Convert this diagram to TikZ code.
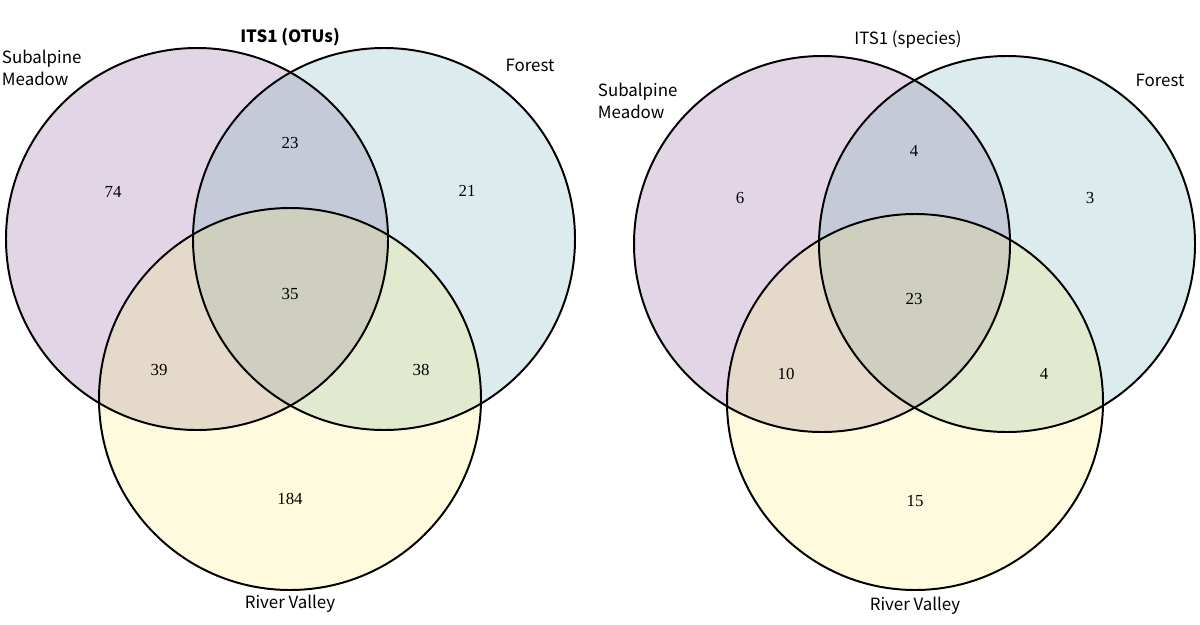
\documentclass[tikz,border=0pt]{standalone}
\usepackage{fontspec}
\setmainfont{Liberation Serif}
\newfontfamily\labelfont{Noto Sans CJK JP}
\usepackage{tikz}

\definecolor{meadow}{RGB}{110,50,130}
\definecolor{forest}{RGB}{80,155,165}
\definecolor{valley}{RGB}{245,230,90}

\begin{document}
\begin{tikzpicture}[x=0.025cm, y=-0.025cm,
  ring/.style={line width=1.4pt},
  tint/.style={fill opacity=0.2},
  num/.style={font=\fontsize{12}{14}\selectfont},
  site/.style={font=\labelfont\fontsize{12}{16}\selectfont, align=left},
  heading/.style={font=\labelfont\fontsize{12}{14}\selectfont}]
\useasboundingbox (0,0) rectangle (1200,624);
% OTUs
\fill[meadow, tint] (197,239) circle[radius=191];
\fill[forest, tint] (384,239) circle[radius=191];
\fill[valley, tint] (290,399) circle[radius=191];
\draw[ring] (197,239) circle[radius=191];
\draw[ring] (384,239) circle[radius=191];
\draw[ring] (290,399) circle[radius=191];
\node[heading, font=\labelfont\bfseries\fontsize{12}{14}\selectfont] (otutitle) at (290,37) {ITS1 (OTUs)};
\node[site, anchor=west] (otumeadow) at (-3,68) {Subalpine\\Meadow};
\node[site] (otuforest) at (530,65) {Forest};
\node[site] (otuvalley) at (290,604) {River Valley};
\node[num] (o1) at (113,192) {74};
\node[num] (o2) at (290,143) {23};
\node[num] (o3) at (467,191) {21};
\node[num] (o4) at (290,294) {35};
\node[num] (o5) at (159,370) {39};
\node[num] (o6) at (421,370) {38};
\node[num] (o7) at (290,499) {184};
% species
\fill[meadow, tint] (822,244) circle[radius=188];
\fill[forest, tint] (1007,244) circle[radius=188];
\fill[valley, tint] (915,402) circle[radius=188];
\draw[ring] (822,244) circle[radius=188];
\draw[ring] (1007,244) circle[radius=188];
\draw[ring] (915,402) circle[radius=188];
\node[heading] (sptitle) at (908,40) {ITS1 (species)};
\node[site, anchor=west] (spmeadow) at (593,101) {Subalpine\\Meadow};
\node[site] (spforest) at (1160,80) {Forest};
\node[site] (spvalley) at (915,606) {River Valley};
\node[num] (s1) at (740,198) {6};
\node[num] (s2) at (914,151) {4};
\node[num] (s3) at (1090,198) {3};
\node[num] (s4) at (914,299) {23};
\node[num] (s5) at (786,374) {10};
\node[num] (s6) at (1044,374) {4};
\node[num] (s7) at (915,501) {15};
\end{tikzpicture}
\end{document}
